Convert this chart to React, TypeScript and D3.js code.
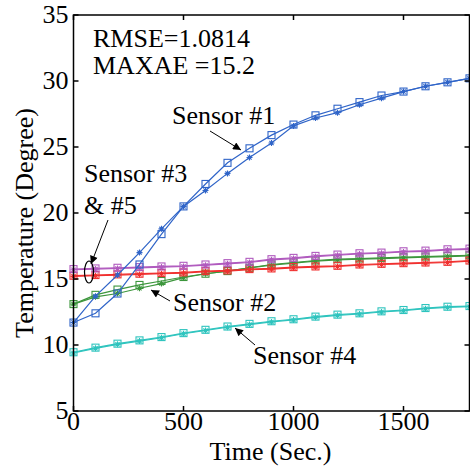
import React, { useEffect, useRef } from "react";
import * as d3 from "d3";

const times = d3.range(0, 1801, 100);

const sensor1Meas = [11.7, 12.4, 13.9, 16.1, 18.4, 20.5, 22.2, 23.8, 24.9, 25.9, 26.7, 27.4, 27.9, 28.4, 28.9, 29.2, 29.6, 29.9, 30.2];
const sensor1Est = [11.7, 13.7, 15.3, 17.0, 18.8, 20.5, 21.7, 23.0, 24.2, 25.3, 26.6, 27.2, 27.6, 28.2, 28.7, 29.2, 29.6, 29.9, 30.2];
const sensor2Meas = [13.1, 13.8, 14.2, 14.55, 14.85, 15.15, 15.4, 15.6, 15.85, 16.1, 16.25, 16.4, 16.5, 16.55, 16.6, 16.65, 16.7, 16.75, 16.8];
const sensor2Est = [13.1, 13.65, 13.9, 14.3, 14.65, 15.1, 15.4, 15.6, 15.85, 16.05, 16.2, 16.35, 16.45, 16.5, 16.55, 16.6, 16.65, 16.7, 16.75];
const sensor3Meas = [15.75, 15.8, 15.85, 15.9, 15.95, 16.0, 16.1, 16.2, 16.3, 16.5, 16.6, 16.75, 16.85, 16.95, 17.0, 17.1, 17.15, 17.25, 17.3];
const sensor3Est = [15.7, 15.75, 15.8, 15.85, 15.9, 15.95, 16.05, 16.15, 16.25, 16.45, 16.55, 16.7, 16.8, 16.9, 16.95, 17.05, 17.1, 17.2, 17.25];
const sensor5Meas = [15.25, 15.3, 15.35, 15.4, 15.45, 15.5, 15.6, 15.65, 15.75, 15.8, 15.9, 15.95, 16.0, 16.1, 16.15, 16.2, 16.25, 16.3, 16.4];
const sensor5Est = [15.2, 15.25, 15.3, 15.35, 15.4, 15.45, 15.55, 15.6, 15.7, 15.75, 15.85, 15.9, 15.95, 16.05, 16.1, 16.15, 16.2, 16.25, 16.35];
const sensor4Meas = [9.45, 9.8, 10.1, 10.35, 10.6, 10.9, 11.15, 11.4, 11.6, 11.8, 11.95, 12.15, 12.3, 12.4, 12.55, 12.65, 12.8, 12.9, 12.95];
const sensor4Est = [9.4, 9.75, 10.05, 10.3, 10.55, 10.85, 11.1, 11.35, 11.55, 11.75, 11.9, 12.1, 12.25, 12.35, 12.5, 12.6, 12.75, 12.85, 12.9];

const series = [
  { name: "Sensor #4", color: "#2ec4be", meas: sensor4Meas, est: sensor4Est },
  { name: "Sensor #2", color: "#3c963c", meas: sensor2Meas, est: sensor2Est },
  { name: "Sensor #5", color: "#f0302f", meas: sensor5Meas, est: sensor5Est },
  { name: "Sensor #3", color: "#b05abe", meas: sensor3Meas, est: sensor3Est },
  { name: "Sensor #1", color: "#2f64c8", meas: sensor1Meas, est: sensor1Est },
];

const xTicks = [0, 500, 1000, 1500];
const yTicks = [5, 10, 15, 20, 25, 30, 35];

function App() {
  const ref = useRef(null);

  useEffect(() => {
    document.body.style.margin = "0";
    const root = d3.select(ref.current);
    root.selectAll("*").remove();

    const margin = { top: 15, right: 0.5, bottom: 61, left: 73.5 };
    const W = 470;
    const H = 472;
    const width = W - margin.left - margin.right;
    const height = H - margin.top - margin.bottom;
    const font = "'Liberation Serif', 'Times New Roman', serif";

    const svg = root
      .append("svg")
      .attr("width", W)
      .attr("height", H)
      .style("display", "block")
      .style("background", "#fff");

    svg
      .append("defs")
      .append("marker")
      .attr("id", "arrow")
      .attr("viewBox", "0 0 10 10")
      .attr("refX", 10)
      .attr("refY", 5)
      .attr("markerWidth", 10)
      .attr("markerHeight", 8)
      .attr("markerUnits", "userSpaceOnUse")
      .attr("orient", "auto")
      .append("path")
      .attr("d", "M0,0 L10,5 L0,10 z")
      .attr("fill", "#000");

    const g = svg.append("g").attr("transform", `translate(${margin.left},${margin.top})`);

    const x = d3.scaleLinear().domain([0, 1800]).range([0, width]);
    const y = d3.scaleLinear().domain([5, 35]).range([height, 0]);

    const line = d3
      .line()
      .x((d) => x(d[0]))
      .y((d) => y(d[1]));

    series.forEach((s) => {
      const pm = times.map((t, i) => [t, s.meas[i]]);
      const pe = times.map((t, i) => [t, s.est[i]]);
      const lg = g.append("g");
      lg.append("path").datum(pm).attr("d", line).attr("fill", "none").attr("stroke", s.color).attr("stroke-width", 1.2);
      lg.append("path").datum(pe).attr("d", line).attr("fill", "none").attr("stroke", s.color).attr("stroke-width", 1.2);
      lg.selectAll(".sq")
        .data(pm)
        .enter()
        .append("rect")
        .attr("x", (d) => x(d[0]) - 3.5)
        .attr("y", (d) => y(d[1]) - 3.5)
        .attr("width", 7)
        .attr("height", 7)
        .attr("fill", "none")
        .attr("stroke", s.color)
        .attr("stroke-width", 1.1);
      const r = 3;
      lg.selectAll(".st")
        .data(pe)
        .enter()
        .append("path")
        .attr("d", (d) => {
          const cx = x(d[0]);
          const cy = y(d[1]);
          return `M${cx - r},${cy}L${cx + r},${cy}M${cx},${cy - r}L${cx},${cy + r}M${cx - r * 0.7},${cy - r * 0.7}L${cx + r * 0.7},${cy + r * 0.7}M${cx - r * 0.7},${cy + r * 0.7}L${cx + r * 0.7},${cy - r * 0.7}`;
        })
        .attr("stroke", s.color)
        .attr("stroke-width", 1.1);
    });

    // frame and ticks
    const tick = 5;
    const axG = g.append("g").attr("stroke", "#000").attr("stroke-width", 1.5);
    axG.append("rect").attr("x", 0).attr("y", 0).attr("width", width).attr("height", height).attr("fill", "none");
    xTicks.forEach((t) => {
      axG.append("line").attr("x1", x(t)).attr("x2", x(t)).attr("y1", height).attr("y2", height - tick);
      axG.append("line").attr("x1", x(t)).attr("x2", x(t)).attr("y1", 0).attr("y2", tick);
    });
    yTicks.forEach((t) => {
      axG.append("line").attr("x1", 0).attr("x2", tick).attr("y1", y(t)).attr("y2", y(t));
      axG.append("line").attr("x1", width).attr("x2", width - tick).attr("y1", y(t)).attr("y2", y(t));
    });

    const txt = g.append("g").attr("font-family", font).attr("font-size", 26).attr("fill", "#000");
    xTicks.forEach((t) => {
      txt.append("text").attr("x", x(t)).attr("y", height + 19).attr("text-anchor", "middle").text(t);
    });
    yTicks.forEach((t) => {
      txt.append("text").attr("x", -5).attr("y", y(t) + 8).attr("text-anchor", "end").text(t);
    });
    txt.append("text").attr("x", x(900) - 1).attr("y", height + 49).attr("text-anchor", "middle").text("Time (Sec.)");
    txt
      .append("text")
      .attr("transform", `translate(-40.5,${height / 2 + 10}) rotate(-90)`)
      .attr("text-anchor", "middle")
      .text("Temperature (Degree)");

    // annotations
    const ann = svg.append("g").attr("font-family", font).attr("font-size", 26).attr("fill", "#000");
    ann.append("text").attr("x", 93).attr("y", 46.5).text("RMSE=1.0814");
    ann.append("text").attr("x", 93).attr("y", 74).text("MAXAE =15.2");
    ann.append("text").attr("x", 172).attr("y", 124).text("Sensor #1");
    ann.append("text").attr("x", 84).attr("y", 182).text("Sensor #3");
    ann.append("text").attr("x", 84).attr("y", 214).text("& #5");
    ann.append("text").attr("x", 173).attr("y", 311).text("Sensor #2");
    ann.append("text").attr("x", 253).attr("y", 364).text("Sensor #4");

    const arrows = [
      [210, 131, 241, 150],
      [108, 220, 91, 264],
      [170, 301, 151, 290],
      [255, 345, 235, 328],
    ];
    arrows.forEach((a) => {
      svg
        .append("line")
        .attr("x1", a[0])
        .attr("y1", a[1])
        .attr("x2", a[2])
        .attr("y2", a[3])
        .attr("stroke", "#000")
        .attr("stroke-width", 1)
        .attr("marker-end", "url(#arrow)");
    });
    svg
      .append("ellipse")
      .attr("cx", 89)
      .attr("cy", 272)
      .attr("rx", 4.5)
      .attr("ry", 11)
      .attr("fill", "none")
      .attr("stroke", "#000")
      .attr("stroke-width", 1.2);
  }, []);

  return <div ref={ref}></div>;
}

export default App;
